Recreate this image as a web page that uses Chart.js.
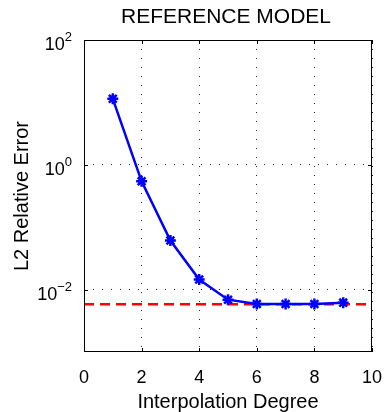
<!DOCTYPE html>
<html>
<head>
<meta charset="utf-8">
<script src="https://cdn.jsdelivr.net/npm/chart.js@4.4.0/dist/chart.umd.min.js"></script>
<style>
  html, body { margin: 0; padding: 0; background: #fff; }
  #wrap { width: 384px; height: 412px; }
</style>
</head>
<body>
<div id="wrap"><canvas id="errChart"></canvas></div>
<script>
// values
const degrees = [1, 2, 3, 4, 5, 6, 7, 8, 9];
const relErrors = [11.4, 0.543, 0.0612, 0.0145, 0.0069, 0.00589, 0.00589, 0.00589, 0.00618];
const refError = 0.00581;
const refRange = [0, 10];
const xTicks = [0, 2, 4, 6, 8, 10];
const yExponents = [-2, 0, 2];

const FONT = '"Liberation Sans", Arial, Helvetica, sans-serif';

// box, inward ticks, title and the 10^n labels
const frame = {
  id: 'frame',
  afterDraw(chart) {
    const {ctx, chartArea: a, scales: {x, y}} = chart;
    ctx.save();
    ctx.strokeStyle = '#000';
    ctx.lineWidth = 1;
    ctx.strokeRect(a.left + 0.5, a.top + 0.5, a.width - 1, a.height - 1);

    ctx.beginPath();
    xTicks.forEach(v => {
      const px = Math.round(x.getPixelForValue(v)) + 0.5;
      ctx.moveTo(px, a.bottom); ctx.lineTo(px, a.bottom - 4);
      ctx.moveTo(px, a.top); ctx.lineTo(px, a.top + 4);
    });
    yExponents.forEach(e => {
      const py = Math.round(y.getPixelForValue(Math.pow(10, e))) + 0.5;
      ctx.moveTo(a.left, py); ctx.lineTo(a.left + 4, py);
      ctx.moveTo(a.right, py); ctx.lineTo(a.right - 4, py);
    });
    ctx.stroke();

    ctx.fillStyle = '#000';
    ctx.font = '21px ' + FONT;
    ctx.textAlign = 'center';
    ctx.textBaseline = 'middle';
    ctx.fillText('REFERENCE MODEL', 226, 17);

    ctx.textBaseline = 'alphabetic';
    yExponents.forEach(e => {
      const py = y.getPixelForValue(Math.pow(10, e));
      const exp = e < 0 ? '\u2212' + (-e) : String(e);
      ctx.font = '13px ' + FONT;
      const ew = ctx.measureText(exp).width;
      ctx.textAlign = 'left';
      ctx.fillText(exp, 72 - ew, py + 1);
      ctx.font = '18px ' + FONT;
      ctx.textAlign = 'right';
      ctx.fillText('10', 72 - ew, py + 10);
    });
    ctx.restore();
  }
};

new Chart(document.getElementById('errChart'), {
  type: 'line',
  data: {
    datasets: [
      {
        label: 'reference',
        data: refRange.map(v => ({x: v, y: refError})),
        borderColor: '#ff0000',
        borderWidth: 2.5,
        borderDash: [10, 6],
        pointRadius: 0,
        order: 2
      },
      {
        label: 'L2 error',
        data: degrees.map((d, i) => ({x: d, y: relErrors[i]})),
        borderColor: '#0000ff',
        backgroundColor: '#0000ff',
        borderWidth: 2.5,
        pointStyle: 'star',
        pointRadius: 5.5,
        pointBorderWidth: 2.5,
        order: 1
      }
    ]
  },
  options: {
    responsive: true,
    maintainAspectRatio: false,
    animation: false,
    layout: { padding: { top: 40, right: 12, left: 0, bottom: 0 } },
    plugins: {
      legend: { display: false },
      tooltip: { enabled: false }
    },
    scales: {
      x: {
        type: 'linear',
        min: 0,
        max: 10,
        afterBuildTicks: s => { s.ticks = xTicks.map(v => ({value: v})); },
        afterFit: s => { s.height = 60; s.paddingLeft = 0; s.paddingRight = 0; },
        grid: { color: 'rgba(0,0,0,0.85)', drawTicks: false },
        border: { display: false, dash: [1, 8] },
        ticks: {
          color: '#000',
          font: { family: FONT, size: 18 },
          padding: 15,
          maxRotation: 0,
          autoSkip: false
        },
        title: {
          display: true,
          text: 'Interpolation Degree',
          color: '#000',
          font: { family: FONT, size: 20, lineHeight: 1 },
          padding: { top: 0, bottom: 0 }
        }
      },
      y: {
        type: 'logarithmic',
        min: 0.001,
        max: 100,
        afterBuildTicks: s => { s.ticks = yExponents.map(e => ({value: Math.pow(10, e)})); },
        afterFit: s => { s.width = 84; s.paddingTop = 0; s.paddingBottom = 0; },
        grid: { color: 'rgba(0,0,0,0.85)', drawTicks: false },
        border: { display: false, dash: [1, 8] },
        ticks: { display: false },
        title: {
          display: true,
          text: 'L2 Relative Error',
          color: '#000',
          font: { family: FONT, size: 20, lineHeight: 1 },
          padding: { top: 12, bottom: 0 }
        }
      }
    }
  },
  plugins: [frame]
});
</script>
</body>
</html>
